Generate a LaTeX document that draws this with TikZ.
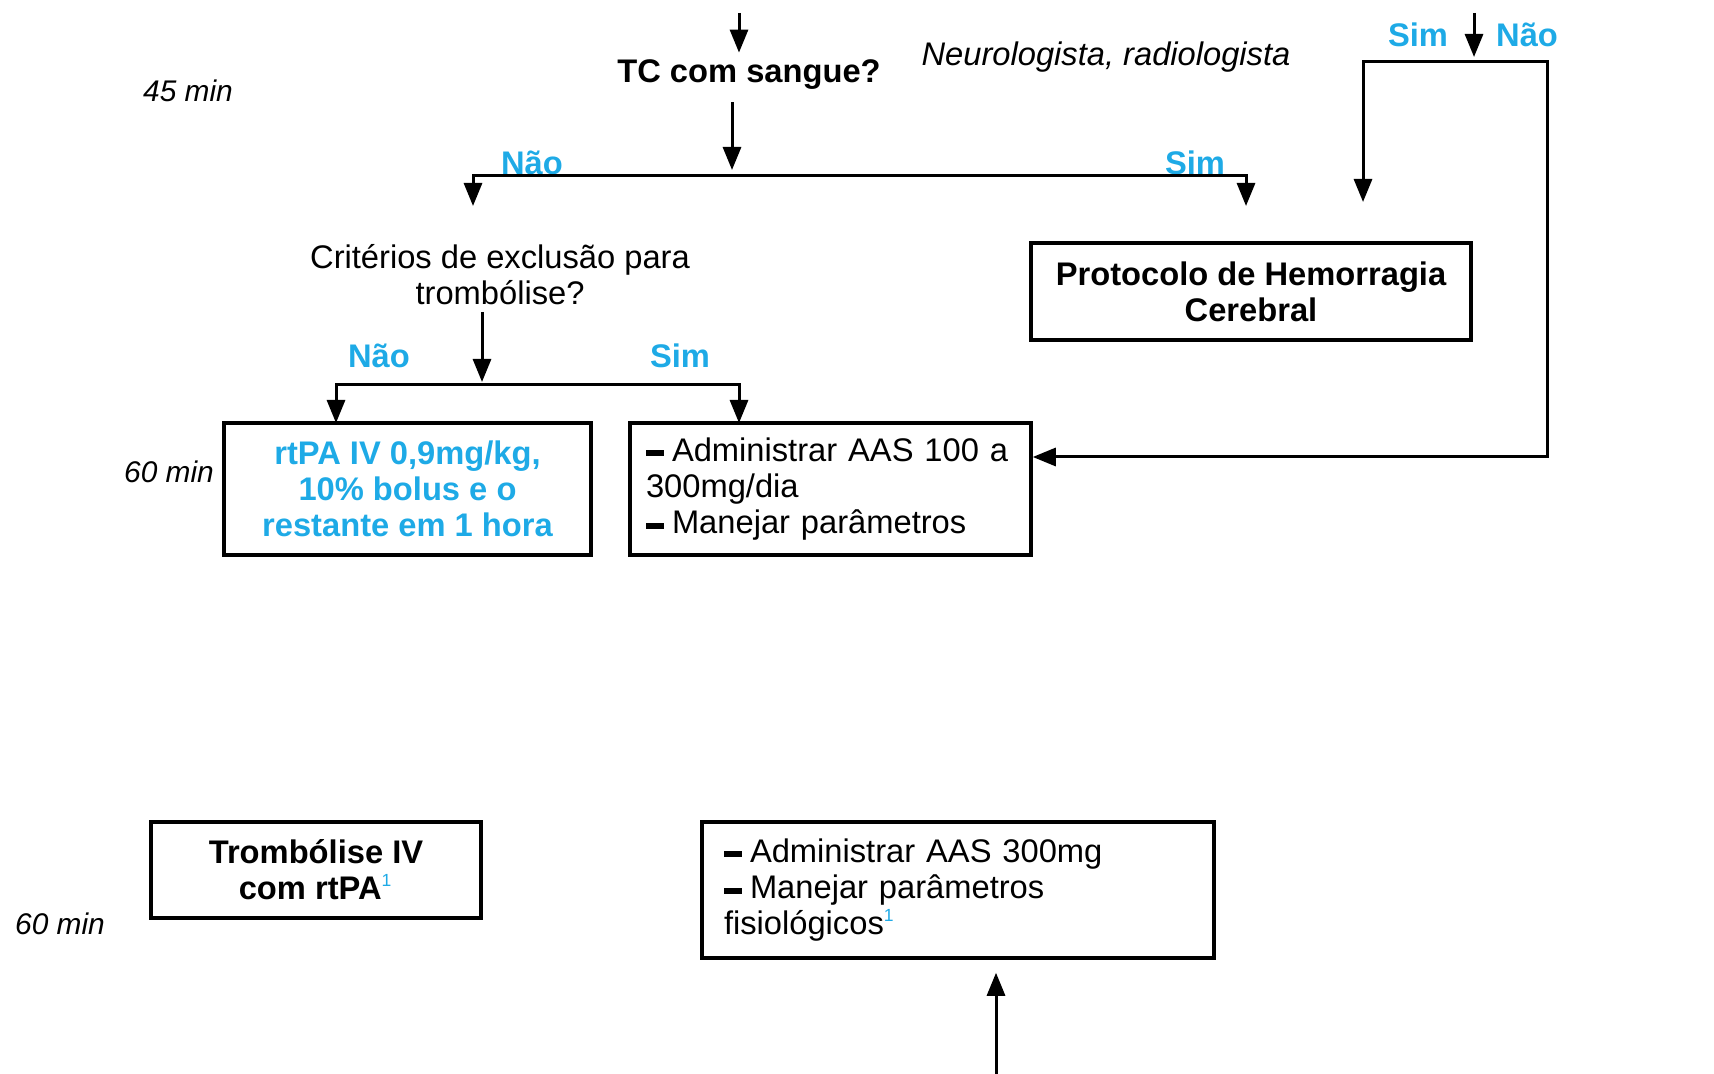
\documentclass[tikz,border=0pt]{standalone}
\usepackage{fontspec}
\setmainfont{Liberation Sans}
\usetikzlibrary{arrows.meta}
\definecolor{simnao}{RGB}{30,170,230}
\newcommand\barra{\rule[0.28ex]{1.8mm}{0.6mm}\hspace{0.8mm}}

\begin{document}
\begin{tikzpicture}[x=0.1mm,y=-0.1mm,line width=0.3mm,>={Triangle[length=2.3mm,width=1.8mm]},
  txt/.style={font=\fontsize{9.3}{10.3}\selectfont,align=center,inner sep=0pt},
  box/.style={draw,line width=0.35mm,inner sep=0pt,align=center,font=\fontsize{9.3}{10.3}\selectfont\bfseries},
  lista/.style={box,font=\fontsize{9.3}{10.3}\selectfont,align=left,inner xsep=1.6mm},
  yesno/.style={font=\fontsize{9.3}{10.3}\selectfont\bfseries,text=simnao,inner sep=0pt},
  tempo/.style={font=\fontsize{8.5}{10}\selectfont\itshape,inner sep=0pt}]
\useasboundingbox (0,0) rectangle (1714,1074);
% ---------- perguntas e tempos ----------
\node[txt,font=\fontsize{9.3}{10.3}\selectfont\bfseries] (tc) at (749,75) {TC com sangue?};
\node[txt,font=\fontsize{9.3}{10.3}\selectfont\itshape] (neuro) at (1106,57) {Neurologista, radiologista};
\node[tempo] (t45) at (188,91) {45 min};
\node[txt] (crit) at (500,275) {Critérios de exclusão para\\trombólise?};
\node[tempo] (t60a) at (169,472) {60 min};
\node[tempo] (t60b) at (60,924) {60 min};
% ---------- caixas ----------
\node[box,minimum width=44mm,minimum height=9.7mm] (hem) at (1251,291.5) {Protocolo de Hemorragia\\Cerebral};
\node[box,text=simnao,minimum width=36.7mm,minimum height=13.2mm] (rtpa) at (407.5,489) {rtPA IV 0,9mg/kg,\\10\% bolus e o\\restante em 1 hora};
\node[lista,text width=36.9mm,minimum height=13.2mm] (aas) at (830.5,489) {\barra Administrar AAS 100 a\\300mg/dia\\\barra Manejar parâmetros};
\node[box,minimum width=33mm,minimum height=9.6mm] (trombo) at (316,870) {Trombólise IV\\com rtPA\textsuperscript{\mdseries\tiny\color{simnao}1}};
\node[lista,inner xsep=2.2mm,text width=46.8mm,minimum height=13.6mm] (aas2) at (958,890) {\barra Administrar AAS 300mg\\\barra Manejar parâmetros\\fisiológicos\textsuperscript{\tiny\color{simnao}1}};
% ---------- sim / nao ----------
\node[yesno] (nao1) at (532,163) {Não};
\node[yesno] (sim1) at (1195,163) {Sim};
\node[yesno] (sim2) at (1418,35) {Sim};
\node[yesno] (nao2) at (1527,35) {Não};
\node[yesno] (nao3) at (379,356) {Não};
\node[yesno] (sim3) at (680,356) {Sim};
% ---------- ligacoes ----------
\coordinate (inicio) at (739,13);
\draw[->,shorten >=0.6mm] (inicio) -- (inicio |- tc.north);
\coordinate (ramo1) at (732,176);
\coordinate (critin) at (473,206);
\coordinate (hemin) at (1246,206);
\draw[->,shorten <=1.1mm,shorten >=0.6mm] (tc.south -| ramo1) -- (ramo1);
\draw[->] (ramo1) -| (critin);
\draw[->] (ramo1) -| (hemin);
% ramo da direita
\coordinate (inicio2) at (1474,13);
\coordinate (ramo2) at (1474,62);
\coordinate (hemin2) at (1363,202);
\coordinate (canto) at (1547,457);
\draw[->,shorten >=0.5mm] (inicio2) -- (ramo2);
\draw[->] (ramo2) -| (hemin2);
\draw[->] (ramo2) -| (canto) -- (aas.east |- canto);
% trombolise
\coordinate (ramo3) at (482,385);
\coordinate (rtpain) at (336,423);
\coordinate (aasin) at (739,423);
\draw[->,shorten <=0.5mm,shorten >=0.3mm] (crit.south -| ramo3) -- (ramo3);
\draw[->] (ramo3) -| (rtpain);
\draw[->] (ramo3) -| (aasin);
% em baixo
\coordinate (fim) at (996,1074);
\draw[->,shorten >=1.3mm] (fim) -- (fim |- aas2.south);
\end{tikzpicture}
\end{document}
